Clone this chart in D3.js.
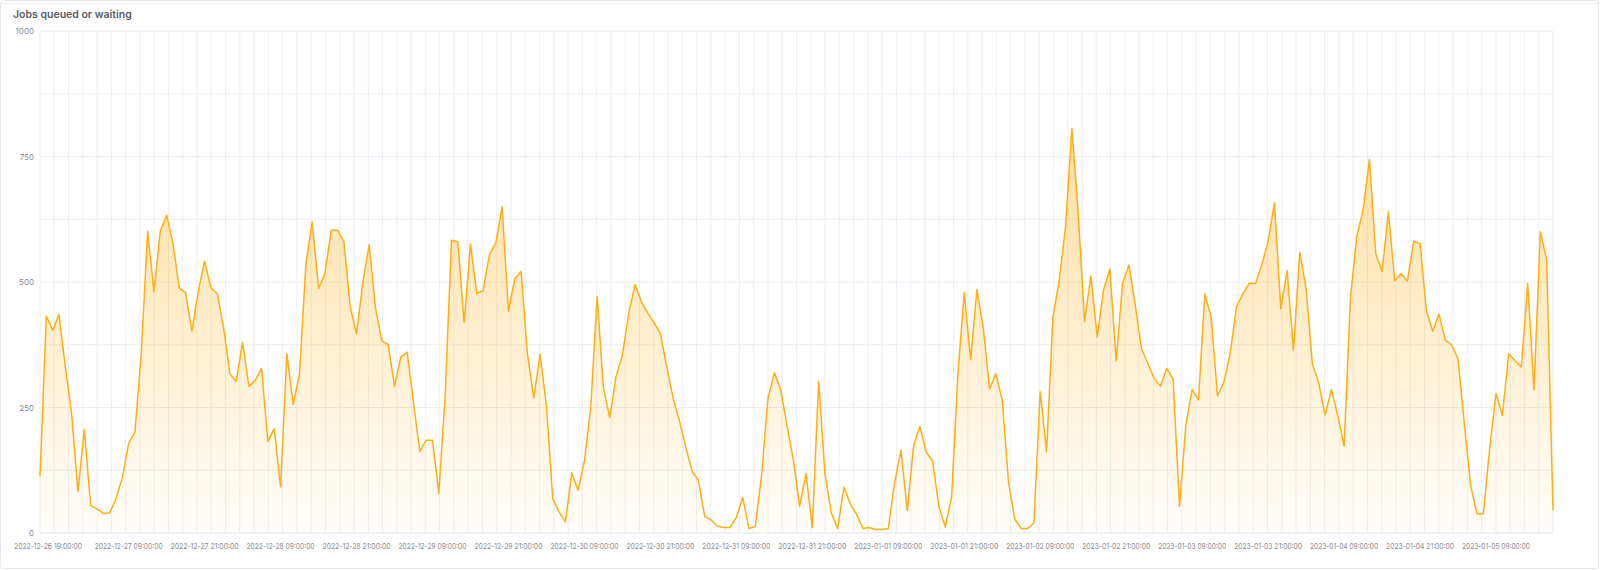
<!DOCTYPE html>
<html><head><meta charset="utf-8">
<script src="https://cdn.jsdelivr.net/npm/d3@7/dist/d3.min.js"></script>
<style>body{margin:0;background:#fff;font-family:Inter,"Noto Sans",sans-serif;overflow:hidden}</style>
</head><body><svg id="c" width="1600" height="570" style="display:block"></svg>
<script>
const title = "Jobs queued or waiting";
const startTime = "2022-12-26T19:00:00";
const values = [
113,432,404,435,331,237,83,206,55,48,39,40,68,110,178,201,357,601,481,601,633,578,488,479,402,481,542,488,477,409,317,302,380,292,304,328,182,208,92,357,
256,318,536,620,487,516,603,603,581,451,397,500,574,448,383,375,292,351,360,260,162,185,185,79,273,583,580,419,576,477,483,555,578,650,442,507,521,357,269,356,
253,68,42,22,120,85,143,250,471,289,230,312,354,438,495,461,438,419,397,331,269,224,172,123,105,33,26,14,11,11,31,71,9,13,117,269,319,286,214,
146,53,118,11,302,117,40,9,91,58,37,9,11,7,7,9,100,165,45,175,212,161,143,53,12,71,318,479,345,485,409,287,317,265,100,27,9,9,20,282,
162,429,503,611,806,637,421,512,391,484,526,343,497,534,455,367,338,308,293,328,306,53,214,286,265,476,430,273,300,357,451,476,498,497,534,581,658,
447,523,364,559,487,336,299,235,286,234,173,468,591,643,744,557,521,640,502,517,502,581,577,443,402,436,384,375,347,217,94,38,38,169,278,234,357,343,331,497,
285,600,545,45
];
const yTicks = [0,250,500,750,1000];
const yGrid = [125,250,375,500,625,750,875,1000];

const svg = d3.select("#c");
svg.append("rect").attr("x",0.5).attr("y",0.5).attr("width",1598).attr("height",568)
  .attr("rx",3).attr("fill","#fff").attr("stroke","#e6e6ee");
svg.append("line").attr("x1",0).attr("x2",1600).attr("y1",3.5).attr("y2",3.5).attr("stroke","#ececf2");
svg.append("text").attr("x",13).attr("y",18).text(title)
  .attr("font-size",10.5).attr("font-weight",600).attr("fill","#5b5b66");

const L=40,R=1553,T=31,B=533;
const x = d3.scaleLinear().domain([0,values.length-1]).range([L,R]);
const y = d3.scaleLinear().domain([0,1000]).range([B,T]);
const t0 = new Date(startTime);

const nV = 106;
svg.append("g").selectAll("line").data(d3.range(nV+1)).join("line")
  .attr("x1",i=>L+i*(R-L)/nV).attr("x2",i=>L+i*(R-L)/nV).attr("y1",T).attr("y2",B)
  .attr("stroke","#eeeef5").attr("stroke-width",1);
svg.append("g").selectAll("line").data(yGrid).join("line")
  .attr("x1",L).attr("x2",R).attr("y1",d=>y(d)).attr("y2",d=>y(d))
  .attr("stroke","#ededf3");
svg.append("line").attr("x1",L).attr("x2",R).attr("y1",B).attr("y2",B).attr("stroke","#e2e2ea");

svg.append("g").selectAll("text").data(yTicks).join("text")
  .attr("x",34).attr("y",d=>y(d)+3).attr("text-anchor","end")
  .attr("font-size",8).attr("fill","#8a8a95").text(d=>d);

const defs = svg.append("defs");
const g = defs.append("linearGradient").attr("id","fillg").attr("gradientUnits","userSpaceOnUse")
  .attr("x1",0).attr("x2",0).attr("y1",y(800)).attr("y2",y(0));
g.append("stop").attr("offset",0).attr("stop-color","#ffb21e").attr("stop-opacity",0.42);
g.append("stop").attr("offset",1).attr("stop-color","#ffb21e").attr("stop-opacity",0.02);

svg.append("path").datum(values)
  .attr("d",d3.area().x((d,i)=>x(i)).y0(B).y1(d=>y(d)))
  .attr("fill","url(#fillg)");
svg.append("path").datum(values)
  .attr("d",d3.line().x((d,i)=>x(i)).y(d=>y(d)))
  .attr("fill","none").attr("stroke","#ffae14").attr("stroke-width",1.5).attr("stroke-linejoin","round");

const fmt = d3.timeFormat("%Y-%m-%d %H:%M:%S");
const labelIdx = [0];
for(let i=6;i<values.length;i++){
  const h = new Date(t0.getTime()+i*3600e3).getHours();
  if(h===9||h===21) labelIdx.push(i);
}
svg.append("g").selectAll("text").data(labelIdx).join("text")
  .attr("x",i=>i===0?L+8:x(i)).attr("y",549).attr("text-anchor","middle")
  .attr("font-size",8).attr("fill","#8a8a95")
  .attr("textLength",68).attr("lengthAdjust","spacingAndGlyphs")
  .text(i=>fmt(new Date(t0.getTime()+i*3600e3)));
</script></body></html>
